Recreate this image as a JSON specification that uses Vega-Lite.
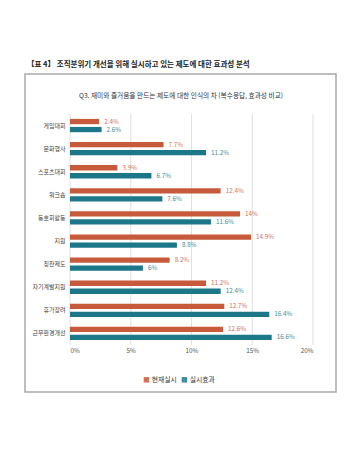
{
  "$schema": "https://vega.github.io/schema/vega-lite/v6.json",
  "width": 311,
  "height": 318,
  "autosize": {"type": "none"},
  "padding": {"left": 25, "top": 74, "right": 23, "bottom": 62},
  "background": "white",
  "config": {
    "font": "Noto Sans CJK KR",
    "view": {"stroke": "#a9a9a9", "strokeWidth": 1.5}
  },
  "title": {
    "text": "【표 4】 조직분위기 개선을 위해 실시하고 있는 제도에 대한 효과성 분석",
    "anchor": "start",
    "frame": "group",
    "fontSize": 7.5,
    "fontWeight": "bold",
    "color": "#222222",
    "offset": 6,
    "dx": 2
  },
  "data": {
    "values": [
      {"item": "게임대회", "series": "현재실시", "v": 2.4},
      {"item": "게임대회", "series": "실시효과", "v": 2.6},
      {"item": "문화행사", "series": "현재실시", "v": 7.7},
      {"item": "문화행사", "series": "실시효과", "v": 11.2},
      {"item": "스포츠대회", "series": "현재실시", "v": 3.9},
      {"item": "스포츠대회", "series": "실시효과", "v": 6.7},
      {"item": "워크숍", "series": "현재실시", "v": 12.4},
      {"item": "워크숍", "series": "실시효과", "v": 7.6},
      {"item": "동호회활동", "series": "현재실시", "v": 14},
      {"item": "동호회활동", "series": "실시효과", "v": 11.6},
      {"item": "지원", "series": "현재실시", "v": 14.9},
      {"item": "지원", "series": "실시효과", "v": 8.8},
      {"item": "칭찬제도", "series": "현재실시", "v": 8.2},
      {"item": "칭찬제도", "series": "실시효과", "v": 6},
      {"item": "자기계발지원", "series": "현재실시", "v": 11.2},
      {"item": "자기계발지원", "series": "실시효과", "v": 12.4},
      {"item": "휴가장려", "series": "현재실시", "v": 12.7},
      {"item": "휴가장려", "series": "실시효과", "v": 16.4},
      {"item": "근무환경개선", "series": "현재실시", "v": 12.6},
      {"item": "근무환경개선", "series": "실시효과", "v": 16.6}
    ]
  },
  "layer": [
    {
      "data": {
        "values": [
          {"t": 0, "ya": "게임대회", "yb": "근무환경개선"},
          {"t": 5, "ya": "게임대회", "yb": "근무환경개선"},
          {"t": 10, "ya": "게임대회", "yb": "근무환경개선"},
          {"t": 15, "ya": "게임대회", "yb": "근무환경개선"},
          {"t": 20, "ya": "게임대회", "yb": "근무환경개선"}
        ]
      },
      "mark": {"type": "rule", "color": "#d9d9d9", "strokeWidth": 0.8, "yOffset": -11.55, "y2Offset": 11.55},
      "encoding": {
        "x": {
          "field": "t",
          "type": "quantitative",
          "scale": {"domain": [0, 20], "range": [45, 288], "nice": false, "zero": true},
          "axis": {
            "values": [0, 5, 10, 15, 20],
            "labelExpr": "datum.value + '%'",
            "grid": false,
            "domain": false,
            "ticks": false,
            "offset": -47,
            "labelPadding": 2,
            "labelFontSize": 6.3,
            "labelColor": "#555555",
            "title": null
          }
        },
        "y": {
          "field": "ya",
          "type": "nominal",
          "scale": {
            "domain": ["게임대회", "문화행사", "스포츠대회", "워크숍", "동호회활동", "지원", "칭찬제도", "자기계발지원", "휴가장려", "근무환경개선"],
            "range": [40, 271],
            "paddingInner": 0,
            "paddingOuter": 0
          },
          "axis": {
            "offset": -45,
            "domain": false,
            "ticks": false,
            "grid": false,
            "labelPadding": 5,
            "labelFontSize": 6,
            "labelColor": "#444444",
            "title": "Q3. 재미와 즐거움을 만드는 제도에 대한 인식의 차 (복수응답, 효과성 비교)",
            "titleAngle": 0,
            "titleX": 110.5,
            "titleY": 23,
            "titleAlign": "center",
            "titleBaseline": "alphabetic",
            "titleFontSize": 6.7,
            "titleFontWeight": "normal",
            "titleColor": "#333333"
          }
        },
        "y2": {"field": "yb"}
      }
    },
    {
      "mark": {"type": "bar"},
      "encoding": {
        "y": {"field": "item", "type": "nominal"},
        "yOffset": {
          "field": "series",
          "type": "nominal",
          "scale": {"domain": ["현재실시", "실시효과"], "paddingInner": 0.34, "paddingOuter": 0.614}
        },
        "x": {"field": "v", "type": "quantitative"},
        "color": {
          "field": "series",
          "type": "nominal",
          "scale": {"domain": ["현재실시", "실시효과"], "range": ["#C65A3B", "#1C7889"]},
          "legend": {
            "orient": "none",
            "legendX": 118,
            "legendY": 302,
            "direction": "horizontal",
            "title": null,
            "symbolType": "square",
            "symbolSize": 30,
            "symbolStrokeWidth": 0,
            "labelFontSize": 6.8,
            "labelColor": "#333333",
            "labelOffset": 2,
            "columnPadding": 4,
            "padding": 0
          }
        }
      }
    },
    {
      "transform": [{"calculate": "datum.v + '%'", "as": "label"}],
      "mark": {"type": "text", "align": "left", "baseline": "middle", "dx": 5, "fontSize": 6.3, "opacity": 0.85},
      "encoding": {
        "y": {"field": "item", "type": "nominal"},
        "yOffset": {"field": "series", "type": "nominal"},
        "x": {"field": "v", "type": "quantitative"},
        "text": {"field": "label"},
        "color": {"field": "series", "type": "nominal"}
      }
    }
  ]
}
